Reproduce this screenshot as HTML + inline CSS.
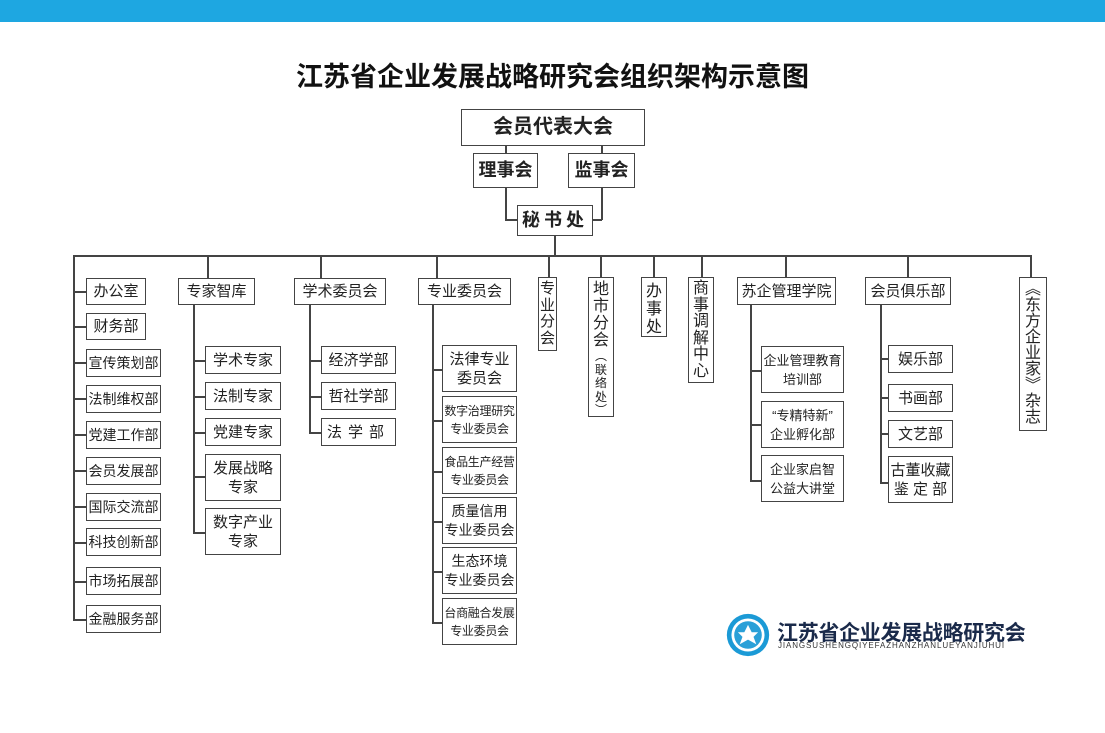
<!DOCTYPE html>
<html><head><meta charset="utf-8"><style>
body{margin:0;width:1105px;height:733px;background:#fff;position:relative;overflow:hidden;font-family:"Liberation Sans","Noto Sans CJK SC",sans-serif;color:#222}
.b{position:absolute;box-sizing:border-box;border:1.5px solid #444;background:#fff;display:flex;align-items:center;justify-content:center;text-align:center;font-size:14px;line-height:19px;white-space:nowrap}
.v{display:block;font-size:16px;line-height:18px;padding-top:5px;overflow:hidden}
.h{position:absolute;height:1.5px;background:#444}
.l{position:absolute;width:1.5px;background:#444}
.t{font-weight:bold;font-size:18px}
.s{font-size:12px;letter-spacing:-0.3px;line-height:18px}
</style></head><body>
<div style="position:absolute;left:0;top:0;width:1105px;height:22px;background:#1ea7e1"></div>
<div style="position:absolute;left:0;top:55px;width:1105px;text-align:center;font-size:27px;font-weight:bold;color:#111">江苏省企业发展战略研究会组织架构示意图</div>

<div class="b t" style="left:461px;top:109px;width:184px;height:37px;font-size:20px">会员代表大会</div>
<div class="b t" style="left:473px;top:153px;width:65px;height:35px">理事会</div>
<div class="b t" style="left:568px;top:153px;width:67px;height:35px">监事会</div>
<div class="b t" style="left:517px;top:205px;width:76px;height:31px;letter-spacing:4px">秘书处</div>
<div class="l" style="left:505px;top:145px;height:8px"></div>
<div class="l" style="left:601px;top:145px;height:8px"></div>
<div class="l" style="left:505px;top:188px;height:32px"></div>
<div class="h" style="left:505px;top:219px;width:12px"></div>
<div class="l" style="left:601px;top:188px;height:32px"></div>
<div class="h" style="left:593px;top:219px;width:9px"></div>
<div class="l" style="left:554px;top:236px;height:20px"></div>
<div class="h" style="left:73px;top:255px;width:958px"></div>

<!-- left column -->
<div class="l" style="left:73px;top:255px;height:365px"></div>
<div class="h" style="left:73px;top:291px;width:13px"></div><div class="b" style="left:86px;top:278px;width:60px;height:27px;font-size:15px">办公室</div>
<div class="h" style="left:73px;top:326px;width:13px"></div><div class="b" style="left:86px;top:313px;width:60px;height:27px;font-size:15px">财务部</div>
<div class="h" style="left:73px;top:362px;width:13px"></div><div class="b" style="left:86px;top:349px;width:75px;height:28px">宣传策划部</div>
<div class="h" style="left:73px;top:398px;width:13px"></div><div class="b" style="left:86px;top:385px;width:75px;height:28px">法制维权部</div>
<div class="h" style="left:73px;top:434px;width:13px"></div><div class="b" style="left:86px;top:421px;width:75px;height:28px">党建工作部</div>
<div class="h" style="left:73px;top:470px;width:13px"></div><div class="b" style="left:86px;top:457px;width:75px;height:28px">会员发展部</div>
<div class="h" style="left:73px;top:506px;width:13px"></div><div class="b" style="left:86px;top:493px;width:75px;height:28px">国际交流部</div>
<div class="h" style="left:73px;top:542px;width:13px"></div><div class="b" style="left:86px;top:528px;width:75px;height:28px">科技创新部</div>
<div class="h" style="left:73px;top:581px;width:13px"></div><div class="b" style="left:86px;top:567px;width:75px;height:28px">市场拓展部</div>
<div class="h" style="left:73px;top:619px;width:13px"></div><div class="b" style="left:86px;top:605px;width:75px;height:28px">金融服务部</div>

<!-- 专家智库 -->
<div class="l" style="left:207px;top:255px;height:23px"></div>
<div class="b" style="left:178px;top:278px;width:77px;height:27px;font-size:15px">专家智库</div>
<div class="l" style="left:193px;top:305px;height:228px"></div>
<div class="h" style="left:193px;top:360px;width:12px"></div><div class="b" style="left:205px;top:346px;width:76px;height:28px;font-size:15px">学术专家</div>
<div class="h" style="left:193px;top:396px;width:12px"></div><div class="b" style="left:205px;top:382px;width:76px;height:28px;font-size:15px">法制专家</div>
<div class="h" style="left:193px;top:432px;width:12px"></div><div class="b" style="left:205px;top:418px;width:76px;height:28px;font-size:15px">党建专家</div>
<div class="h" style="left:193px;top:476px;width:12px"></div><div class="b" style="left:205px;top:454px;width:76px;height:47px;font-size:15px">发展战略<br>专家</div>
<div class="h" style="left:193px;top:532px;width:12px"></div><div class="b" style="left:205px;top:508px;width:76px;height:47px;font-size:15px">数字产业<br>专家</div>

<!-- 学术委员会 -->
<div class="l" style="left:320px;top:255px;height:23px"></div>
<div class="b" style="left:294px;top:278px;width:92px;height:27px;font-size:15px">学术委员会</div>
<div class="l" style="left:309px;top:305px;height:128px"></div>
<div class="h" style="left:309px;top:360px;width:12px"></div><div class="b" style="left:321px;top:346px;width:75px;height:28px;font-size:15px">经济学部</div>
<div class="h" style="left:309px;top:396px;width:12px"></div><div class="b" style="left:321px;top:382px;width:75px;height:28px;font-size:15px">哲社学部</div>
<div class="h" style="left:309px;top:432px;width:12px"></div><div class="b" style="left:321px;top:418px;width:75px;height:28px;font-size:15px;letter-spacing:6px">法学部</div>

<!-- 专业委员会 -->
<div class="l" style="left:436px;top:255px;height:23px"></div>
<div class="b" style="left:418px;top:278px;width:93px;height:27px;font-size:15px">专业委员会</div>
<div class="l" style="left:432px;top:305px;height:318px"></div>
<div class="h" style="left:432px;top:369px;width:10px"></div><div class="b" style="left:442px;top:345px;width:75px;height:47px;font-size:15px">法律专业<br>委员会</div>
<div class="h" style="left:432px;top:420px;width:10px"></div><div class="b s" style="left:442px;top:396px;width:75px;height:47px">数字治理研究<br>专业委员会</div>
<div class="h" style="left:432px;top:471px;width:10px"></div><div class="b s" style="left:442px;top:447px;width:75px;height:47px">食品生产经营<br>专业委员会</div>
<div class="h" style="left:432px;top:521px;width:10px"></div><div class="b" style="left:442px;top:497px;width:75px;height:47px;font-size:14px">质量信用<br>专业委员会</div>
<div class="h" style="left:432px;top:571px;width:10px"></div><div class="b" style="left:442px;top:547px;width:75px;height:47px;font-size:14px">生态环境<br>专业委员会</div>
<div class="h" style="left:432px;top:622px;width:10px"></div><div class="b s" style="left:442px;top:598px;width:75px;height:47px">台商融合发展<br>专业委员会</div>

<!-- vertical boxes -->
<div class="l" style="left:548px;top:255px;height:22px"></div>
<div class="b v" style="left:538px;top:277px;width:19px;height:74px;font-size:15px;line-height:16.5px;padding-top:3px">专<br>业<br>分<br>会</div>
<div class="l" style="left:600px;top:255px;height:22px"></div>
<div class="b v" style="left:588px;top:277px;width:26px;height:140px;line-height:17px;padding-top:3px">地<br>市<br>分<br>会<div style="font-size:12px;line-height:13.5px;margin-top:1px">︵<br>联<br>络<br>处<br>︶</div></div>
<div class="l" style="left:653px;top:255px;height:22px"></div>
<div class="b v" style="left:641px;top:277px;width:26px;height:60px">办<br>事<br>处</div>
<div class="l" style="left:701px;top:255px;height:22px"></div>
<div class="b v" style="left:688px;top:277px;width:26px;height:106px;line-height:16.5px;padding-top:3px">商<br>事<br>调<br>解<br>中<br>心</div>

<!-- 苏企管理学院 -->
<div class="l" style="left:785px;top:255px;height:22px"></div>
<div class="b" style="left:737px;top:277px;width:99px;height:28px;font-size:15px">苏企管理学院</div>
<div class="l" style="left:750px;top:305px;height:176px"></div>
<div class="h" style="left:750px;top:370px;width:11px"></div><div class="b" style="left:761px;top:346px;width:83px;height:47px;font-size:13px">企业管理教育<br>培训部</div>
<div class="h" style="left:750px;top:424px;width:11px"></div><div class="b" style="left:761px;top:401px;width:83px;height:47px;font-size:13px">“专精特新”<br>企业孵化部</div>
<div class="h" style="left:750px;top:480px;width:11px"></div><div class="b" style="left:761px;top:455px;width:83px;height:47px;font-size:13px">企业家启智<br>公益大讲堂</div>

<!-- 会员俱乐部 -->
<div class="l" style="left:907px;top:255px;height:22px"></div>
<div class="b" style="left:865px;top:277px;width:86px;height:28px;font-size:15px">会员俱乐部</div>
<div class="l" style="left:880px;top:305px;height:178px"></div>
<div class="h" style="left:880px;top:358px;width:8px"></div><div class="b" style="left:888px;top:345px;width:65px;height:28px;font-size:15px">娱乐部</div>
<div class="h" style="left:880px;top:397px;width:8px"></div><div class="b" style="left:888px;top:384px;width:65px;height:28px;font-size:15px">书画部</div>
<div class="h" style="left:880px;top:433px;width:8px"></div><div class="b" style="left:888px;top:420px;width:65px;height:28px;font-size:15px">文艺部</div>
<div class="h" style="left:880px;top:482px;width:8px"></div><div class="b" style="left:888px;top:456px;width:65px;height:47px;font-size:15px">古董收藏<br>鉴 定 部</div>

<!-- 杂志 -->
<div class="l" style="left:1030px;top:255px;height:22px"></div>
<div class="b v" style="left:1019px;top:277px;width:28px;height:154px;line-height:16px;padding-top:4px">︽<br>东<br>方<br>企<br>业<br>家<br>︾<br>杂<br>志</div>

<!-- logo -->
<svg style="position:absolute;left:725px;top:612px" width="46" height="46" viewBox="0 0 50 50">
<circle cx="25" cy="25" r="23" fill="#1b9ad6"/><circle cx="25" cy="25" r="18" fill="#fff"/><circle cx="25" cy="25" r="15" fill="#2aa0d8"/>
<path d="M25 14 L29 22 L36 22 L31 27 L34 35 L25 30 L16 35 L19 27 L14 22 L21 22Z" fill="#fff"/>
</svg>
<div style="position:absolute;left:777px;top:617px;font-size:21px;font-weight:bold;color:#1a2a4a;letter-spacing:-0.3px;white-space:nowrap">江苏省企业发展战略研究会</div>
<div style="position:absolute;left:778px;top:641px;font-size:8px;color:#333;letter-spacing:0.9px;white-space:nowrap">JIANGSUSHENGQIYEFAZHANZHANLUEYANJIUHUI</div>
</body></html>
